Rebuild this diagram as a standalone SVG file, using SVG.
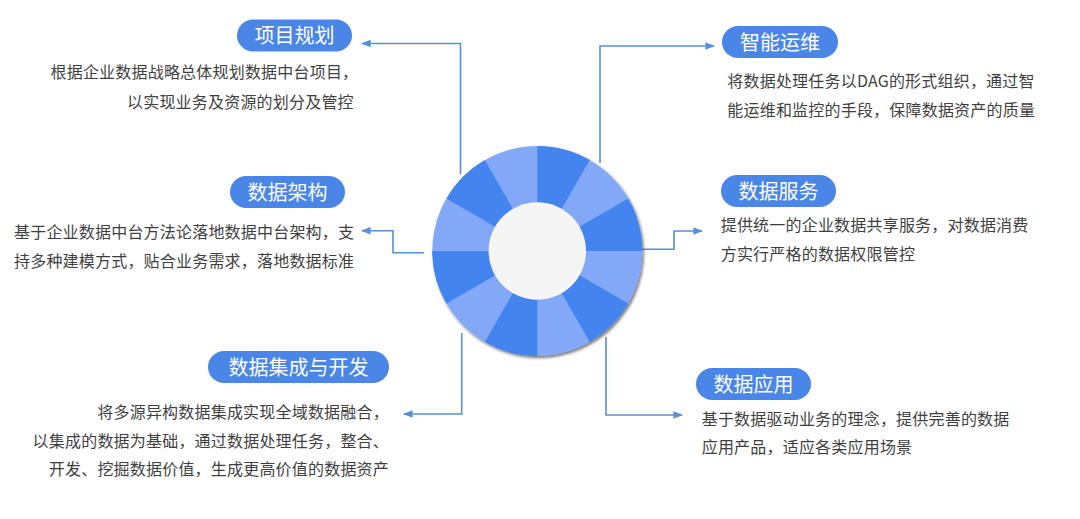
<svg xmlns="http://www.w3.org/2000/svg" width="1080" height="519" viewBox="0 0 1080 519">
  <style>
    .pill { fill: #4a86e8; }
    .pt { fill: #ffffff; font-family: "Noto Sans CJK SC", "Microsoft YaHei", sans-serif; font-size: 20px; text-anchor: middle; }
    .desc { fill: #3f3f3f; font-family: "Noto Sans CJK SC", "Microsoft YaHei", sans-serif; font-size: 16px; letter-spacing: 0.2px; }
    .conn { fill: none; stroke: #5790d6; stroke-width: 1.6; marker-end: url(#arr); }
    .dark { fill: #4384ee; }
    .light { fill: #82a8f7; }
  </style>
  <defs>
    <marker id="arr" viewBox="0 0 10 10" refX="9" refY="5" markerWidth="6" markerHeight="6" markerUnits="strokeWidth" orient="auto">
      <path d="M0,1 L10,5 L0,9 Z" fill="#5790d6"/>
    </marker>
    <filter id="sh" x="-10%" y="-10%" width="125%" height="125%">
      <feDropShadow dx="1.5" dy="2" stdDeviation="1.8" flood-color="#000" flood-opacity="0.55"/>
    </filter>
  </defs>
  <rect width="1080" height="519" fill="#ffffff"/>

  <g id="connectors">
    <polyline class="conn" points="460.5,174 460.5,43.5 362,43.5"/>
    <polyline class="conn" points="600,163 600,46 714,46"/>
    <polyline class="conn" points="424,252.7 393,252.7 393,230.7 362,230.7"/>
    <polyline class="conn" points="640,249.3 674,249.3 674,231 702,231"/>
    <polyline class="conn" points="606,337 606,415 682,415"/>
    <polyline class="conn" points="461.7,333 461.7,414 404,414"/>
  </g>

  <g id="wheel">
    <circle cx="537.3" cy="251" r="105" class="light" filter="url(#sh)"/>
    <path class="dark" d="M537.3,251 L537.3,146 A105,105 0 0 1 589.8,160.07 Z"/>
    <path class="dark" d="M537.3,251 L628.23,198.5 A105,105 0 0 1 642.3,251 Z"/>
    <path class="dark" d="M537.3,251 L628.23,303.5 A105,105 0 0 1 589.8,341.93 Z"/>
    <path class="dark" d="M537.3,251 L537.3,356 A105,105 0 0 1 484.8,341.93 Z"/>
    <path class="dark" d="M537.3,251 L446.37,303.5 A105,105 0 0 1 432.3,251 Z"/>
    <path class="dark" d="M537.3,251 L446.37,198.5 A105,105 0 0 1 484.8,160.07 Z"/>
    <circle cx="537.3" cy="251" r="48.7" fill="#f5f5f5"/>
  </g>

  <g id="node-xiangmuguihua">
    <rect class="pill" x="237" y="19.5" width="115" height="32" rx="16"/>
    <text class="pt" x="294.5" y="43">项目规划</text>
    <text class="desc" x="50.5" y="78">根据企业数据战略总体规划数据中台项目，</text>
    <text class="desc" x="127" y="108">以实现业务及资源的划分及管控</text>
  </g>

  <g id="node-zhinengyunwei">
    <rect class="pill" x="722" y="26" width="116" height="32" rx="16"/>
    <text class="pt" x="780" y="49.5">智能运维</text>
    <text class="desc" x="727.3" y="86.5">将数据处理任务以DAG的形式组织，通过智</text>
    <text class="desc" x="727.3" y="116">能运维和监控的手段，保障数据资产的质量</text>
  </g>

  <g id="node-shujujiagou">
    <rect class="pill" x="230" y="176" width="115" height="32" rx="16"/>
    <text class="pt" x="287.5" y="199.5">数据架构</text>
    <text class="desc" x="14" y="237.5">基于企业数据中台方法论落地数据中台架构，支</text>
    <text class="desc" x="14" y="266.5">持多种建模方式，贴合业务需求，落地数据标准</text>
  </g>

  <g id="node-shujufuwu">
    <rect class="pill" x="721" y="175" width="115" height="32" rx="16"/>
    <text class="pt" x="778.5" y="198.5">数据服务</text>
    <text class="desc" x="720.7" y="231">提供统一的企业数据共享服务，对数据消费</text>
    <text class="desc" x="720.7" y="259.5">方实行严格的数据权限管控</text>
  </g>

  <g id="node-shujujicheng">
    <rect class="pill" x="208" y="351" width="181" height="32" rx="16"/>
    <text class="pt" x="298.5" y="374.5">数据集成与开发</text>
    <text class="desc" x="97.3" y="417.5">将多源异构数据集成实现全域数据融合，</text>
    <text class="desc" x="32.6" y="446.5">以集成的数据为基础，通过数据处理任务，整合、</text>
    <text class="desc" x="48.8" y="474.5">开发、挖掘数据价值，生成更高价值的数据资产</text>
  </g>

  <g id="node-shujuyingyong">
    <rect class="pill" x="696" y="368" width="115" height="32" rx="16"/>
    <text class="pt" x="753.5" y="391.5">数据应用</text>
    <text class="desc" x="701.7" y="425">基于数据驱动业务的理念，提供完善的数据</text>
    <text class="desc" x="701.7" y="453">应用产品，适应各类应用场景</text>
  </g>
</svg>
